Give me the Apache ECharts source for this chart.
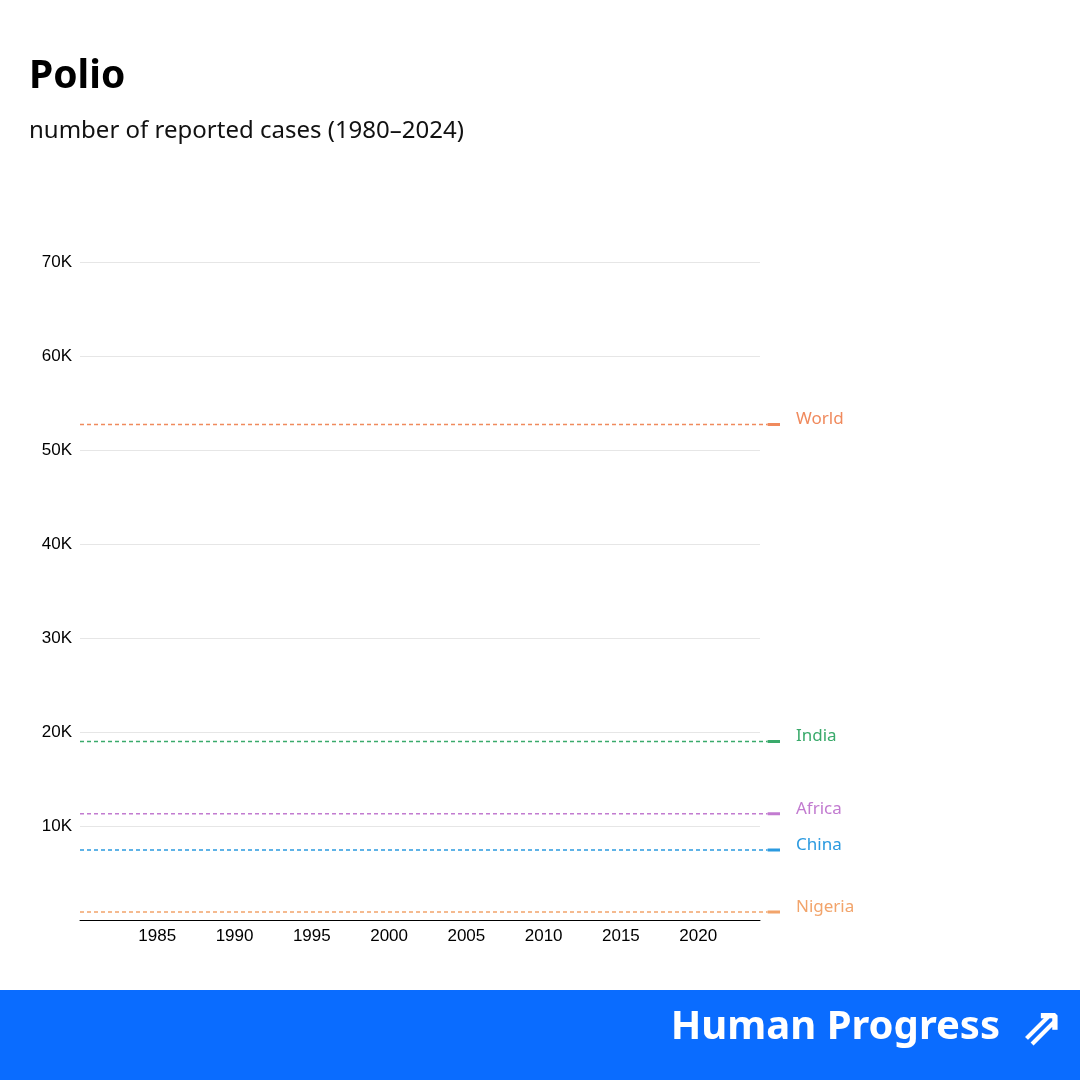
<!DOCTYPE html><html><head><meta charset="utf-8"><script src="https://cdn.jsdelivr.net/npm/echarts@6/dist/echarts.min.js"></script>
<style>body{margin:0}#c{width:1080px;height:1080px}</style></head><body><div id="c"></div><script>
const names=['World','India','Africa','China','Nigeria'];
const values=[52700,19000,11300,7450,850];
const colors=['#f08a5d','#3aaa6b','#c27bd0','#2b9ae0','#f2a46b'];
const yTicks=[10000,20000,30000,40000,50000,60000,70000];
const xTicks=[1985,1990,1995,2000,2005,2010,2015,2020];
const series=[];
names.forEach((n,i)=>{
 series.push({type:'line',xAxisIndex:1,yAxisIndex:1,symbol:'none',silent:true,
  lineStyle:{color:colors[i],type:[4,3],width:1.5},data:[[1980,values[i]],[2024.5,values[i]]]});
 series.push({type:'line',xAxisIndex:1,yAxisIndex:1,symbol:'none',silent:true,
  lineStyle:{color:colors[i],width:3},data:[[2024.5,values[i]],[2025.3,values[i]]],
  endLabel:{show:true,formatter:n,color:colors[i],fontSize:17,fontFamily:'Noto Sans',distance:16,offset:[0,-5]}});
});
const c=echarts.init(document.getElementById('c'));
c.setOption({animation:false,
 title:[{text:'Polio',left:24,top:52,textStyle:{fontSize:39,fontWeight:'bold',color:'#000',fontFamily:'Noto Sans'}},
  {text:'number of reported cases (1980–2024)',left:24,top:114,textStyle:{fontSize:24,fontWeight:'normal',color:'#111',fontFamily:'Noto Sans'}}],
 grid:[{left:80,right:320,top:262,bottom:160},{left:80,right:300,top:262,bottom:160}],
 xAxis:[{type:'value',gridIndex:0,min:1980,max:2024,interval:5,splitLine:{show:false},axisTick:{show:false},
   axisLine:{lineStyle:{color:'#000'}},axisLabel:{color:'#000',fontSize:17,fontFamily:'Liberation Sans',showMaxLabel:false,formatter:v=>xTicks.includes(v)?v:'',margin:8}},
  {type:'value',gridIndex:1,min:1980,max:2025.3,show:false}],
 yAxis:[{type:'value',gridIndex:0,min:0,max:70000,interval:10000,axisLine:{show:false},axisTick:{show:false},
   splitLine:{lineStyle:{color:'#e6e6e6'}},axisLabel:{color:'#000',fontSize:17,fontFamily:'Liberation Sans',margin:8,formatter:v=>yTicks.includes(v)?(v/1000)+'K':''}},
  {type:'value',gridIndex:1,min:0,max:70000,show:false}],
 series,
 graphic:[{type:'rect',left:0,top:990,shape:{width:1080,height:90},style:{fill:'#0a6cff'}},
  {type:'text',right:80,top:1008,style:{text:'Human Progress',fill:'#fff',font:'bold 40px "Noto Sans"'}},
  {type:'text',right:16,top:1004,style:{text:'⇗',fill:'#fff',font:'bold 52px "DejaVu Sans"'}}]
});
</script></body></html>
